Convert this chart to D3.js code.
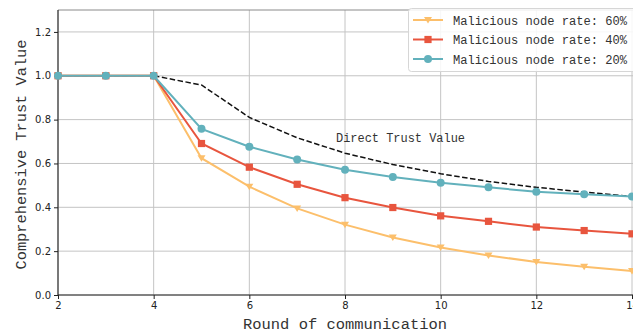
<!DOCTYPE html>
<html>
<head>
<meta charset="utf-8">
<script src="https://cdn.jsdelivr.net/npm/d3@7"></script>
<style>
  html, body { margin: 0; padding: 0; background: #fff; }
  svg { display: block; }
</style>
</head>
<body>
<svg id="chart" width="633" height="333"></svg>
<script>
// Communication rounds
const rounds = [2, 3, 4, 5, 6, 7, 8, 9, 10, 11, 12, 13, 14];

// Comprehensive trust value per malicious node rate
const rate60 = [1.0, 1.0, 1.0, 0.624, 0.494, 0.395, 0.321, 0.262, 0.217, 0.180, 0.151, 0.129, 0.109];
const rate40 = [1.0, 1.0, 1.0, 0.691, 0.583, 0.505, 0.444, 0.399, 0.361, 0.336, 0.310, 0.294, 0.279];
const rate20 = [1.0, 1.0, 1.0, 0.758, 0.676, 0.618, 0.571, 0.538, 0.512, 0.491, 0.471, 0.459, 0.449];

// Direct trust value (dashed reference)
const directTrust = [1.0, 1.0, 1.0, 0.958, 0.810, 0.717, 0.647, 0.595, 0.553, 0.518, 0.491, 0.470, 0.449];

const xTicks = [2, 4, 6, 8, 10, 12, 14];
const yTicks = [0.0, 0.2, 0.4, 0.6, 0.8, 1.0, 1.2];

const seriesNames = ["Malicious node rate: 60%", "Malicious node rate: 40%", "Malicious node rate: 20%"];
const seriesColors = ["#fcbf6b", "#e8553e", "#62b1bc"];
const seriesMarkers = ["triangleDown", "square", "circle"];

const svg = d3.select("#chart");
const plotL = 58, plotR = 632, plotT = 10, plotB = 295;

const x = d3.scaleLinear().domain([2, 14]).range([plotL, plotR]);
const y = d3.scaleLinear().domain([0, 1.3]).range([plotB, plotT]);

// Grid
const grid = svg.append("g");
grid.selectAll(".gx").data(xTicks).join("line")
  .attr("x1", d => x(d)).attr("x2", d => x(d))
  .attr("y1", plotT).attr("y2", plotB)
  .attr("stroke", "#c4c4c4").attr("stroke-width", 1);
grid.selectAll(".gy").data(yTicks).join("line")
  .attr("x1", plotL).attr("x2", 633)
  .attr("y1", d => y(d)).attr("y2", d => y(d))
  .attr("stroke", "#c4c4c4").attr("stroke-width", 1);

// Top spine
svg.append("line").attr("x1", plotL).attr("x2", 633).attr("y1", plotT).attr("y2", plotT)
  .attr("stroke", "#8a8a8a").attr("stroke-width", 1);

// Axes
const xAxis = svg.append("g").attr("transform", `translate(0,${plotB})`)
  .call(d3.axisBottom(x).tickValues(xTicks).tickSize(4).tickPadding(3).tickFormat(d3.format("d")));
const yAxis = svg.append("g").attr("transform", `translate(${plotL},0)`)
  .call(d3.axisLeft(y).tickValues(yTicks).tickSize(4).tickPadding(3).tickFormat(d3.format(".1f")));
[xAxis, yAxis].forEach(a => {
  a.select(".domain").attr("stroke", "#222").attr("stroke-width", 1.1);
  a.selectAll(".tick line").attr("stroke", "#222");
  a.selectAll(".tick text").attr("fill", "#222")
    .style("font-family", "'DejaVu Sans', sans-serif").style("font-size", "10px");
});
yAxis.select(".domain").attr("d", `M0,${plotT}V${plotB}`);
xAxis.select(".domain").attr("d", `M${plotL},0H633`);

// Axis titles
const monoFont = "'Liberation Mono', 'DejaVu Sans Mono', monospace";
svg.append("text").attr("x", 345).attr("y", 329)
  .attr("text-anchor", "middle").attr("fill", "#333")
  .style("font-family", monoFont).style("font-size", "15.5px")
  .attr("textLength", 204).attr("lengthAdjust", "spacingAndGlyphs")
  .text("Round of communication");
svg.append("text").attr("transform", `translate(26,${(plotT + plotB) / 2 + 2}) rotate(-90)`)
  .attr("text-anchor", "middle").attr("fill", "#333")
  .style("font-family", monoFont).style("font-size", "15.5px")
  .attr("textLength", 230).attr("lengthAdjust", "spacingAndGlyphs")
  .text("Comprehensive Trust Value");

// Direct trust dashed line
const line = d3.line().x((d, i) => x(rounds[i])).y(d => y(d));
svg.append("path").datum(directTrust)
  .attr("d", line).attr("fill", "none")
  .attr("stroke", "#111").attr("stroke-width", 1.5)
  .attr("stroke-dasharray", "5.5,2.5");

svg.append("text").attr("x", 336).attr("y", 142)
  .attr("fill", "#333")
  .style("font-family", monoFont).style("font-size", "12px")
  .attr("textLength", 129).attr("lengthAdjust", "spacingAndGlyphs")
  .text("Direct Trust Value");

// Marker drawing
function drawMarker(g, type, cx, cy, color) {
  if (type === "circle") {
    g.append("circle").attr("cx", cx).attr("cy", cy).attr("r", 4).attr("fill", color);
  } else if (type === "square") {
    g.append("rect").attr("x", cx - 3.6).attr("y", cy - 3.6).attr("width", 7.2).attr("height", 7.2).attr("fill", color);
  } else {
    g.append("path").attr("d", `M${cx - 4},${cy - 3}L${cx + 4},${cy - 3}L${cx},${cy + 3.5}Z`).attr("fill", color);
  }
}

const allSeries = [rate60, rate40, rate20];
allSeries.forEach((vals, si) => {
  const g = svg.append("g");
  g.append("path").datum(vals).attr("d", line).attr("fill", "none")
    .attr("stroke", seriesColors[si]).attr("stroke-width", 2);
  vals.forEach((v, i) => drawMarker(g, seriesMarkers[si], x(rounds[i]), y(v), seriesColors[si]));
});

// Legend
const lg = svg.append("g");
lg.append("rect").attr("x", 408.5).attr("y", 8.5).attr("width", 240).attr("height", 63)
  .attr("rx", 3).attr("fill", "#fff").attr("fill-opacity", 0.85)
  .attr("stroke", "#d6d6d6");
seriesNames.forEach((name, i) => {
  const cy = 20 + i * 19.5;
  lg.append("line").attr("x1", 413).attr("x2", 443).attr("y1", cy).attr("y2", cy)
    .attr("stroke", seriesColors[i]).attr("stroke-width", 2);
  drawMarker(lg, seriesMarkers[i], 428, cy, seriesColors[i]);
  lg.append("text").attr("x", 453).attr("y", cy + 4.5).attr("fill", "#333")
    .style("font-family", monoFont).style("font-size", "12.5px")
    .attr("textLength", 174).attr("lengthAdjust", "spacingAndGlyphs")
    .text(name);
});
</script>
</body>
</html>
